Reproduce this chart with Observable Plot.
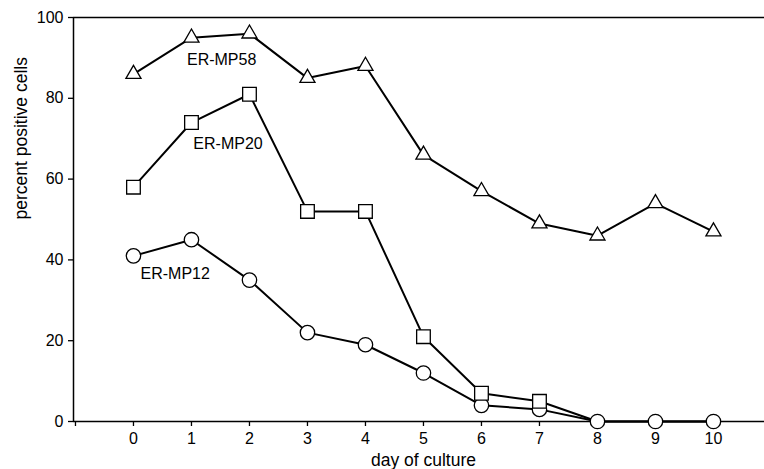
<!DOCTYPE html>
<html><head><meta charset="utf-8">
<script src="https://cdn.jsdelivr.net/npm/d3@7"></script>
<script src="https://cdn.jsdelivr.net/npm/@observablehq/plot@0.6"></script>
<style>body{margin:0;background:#fff;} #chart svg{display:block;}</style>
</head><body><div id="chart"></div>
<script>
const days = [0,1,2,3,4,5,6,7,8,9,10];
const mp58 = [86,95,96,85,88,66,57,49,46,54,47];
const mp20 = [58,74,81,52,52,21,7,5,0,0,0];
const mp12 = [41,45,35,22,19,12,4,3,0,0,0];
const seriesNames = ["ER-MP58","ER-MP20","ER-MP12"];
const labelDay = [1.52,1.63,0.72];
const labelValue = [89.4,68.6,36.6];
const xTicks = [-1,0,1,2,3,4,5,6,7,8,9,10];
const yTicks = [0,20,40,60,80,100];
const xTitle = "day of culture";
const yTitle = "percent positive cells";

const values = [mp58, mp20, mp12];
const rows = [];
seriesNames.forEach((s, i) => days.forEach((d, j) => rows.push({series: s, day: d, value: values[i][j]})));
const labels = seriesNames.map((s, i) => ({series: s, day: labelDay[i], value: labelValue[i]}));
const of = s => rows.filter(r => r.series === s);

const xDomain = [-1.034, 10.88];
const dotStyle = {x: "day", y: "value", fill: "white", stroke: "black", strokeWidth: 1.3};

const chart = Plot.plot({
  width: 764,
  height: 469,
  marginLeft: 73,
  marginRight: 0,
  marginTop: 17,
  marginBottom: 48,
  style: {fontFamily: "'Liberation Sans', Arial, sans-serif", fontSize: "16px", color: "black", background: "white"},
  x: {domain: xDomain},
  y: {domain: [0, 100]},
  marks: [
    Plot.ruleY([100], {stroke: "black", strokeWidth: 1.5}),
    Plot.ruleY([0], {stroke: "black", strokeWidth: 1.5}),
    Plot.ruleX([xDomain[0]], {stroke: "black", strokeWidth: 1.5}),
    Plot.axisY({ticks: yTicks, tickSize: 5, tickPadding: 5, fontSize: 16, strokeWidth: 1.3, label: null}),
    Plot.axisX({ticks: xTicks, tickSize: 5, tickPadding: 6, fontSize: 16, strokeWidth: 1.3,
      tickFormat: d => d < 0 ? "" : String(d), label: null}),
    Plot.text([yTitle], {frameAnchor: "left", dx: -52, rotate: -90, lineAnchor: "middle", fontSize: 17.5, fill: "black"}),
    Plot.text([xTitle], {frameAnchor: "bottom", dx: 4.5, dy: 39, lineAnchor: "middle", fontSize: 17.5, fill: "black"}),
    Plot.line(rows, {x: "day", y: "value", z: "series", stroke: "black", strokeWidth: 2}),
    Plot.dot(of("ER-MP12"), {...dotStyle, symbol: "circle", r: 7.2}),
    Plot.dot(of("ER-MP20").filter(d => d.value > 0), {...dotStyle, symbol: "square", r: 7.7}),
    Plot.dot(of("ER-MP58"), {...dotStyle, symbol: "triangle", r: 5.6}),
    Plot.text(labels, {x: "day", y: "value", text: "series", fontSize: 16, fill: "black"})
  ]
});
document.getElementById("chart").appendChild(chart);
</script>
</body></html>
